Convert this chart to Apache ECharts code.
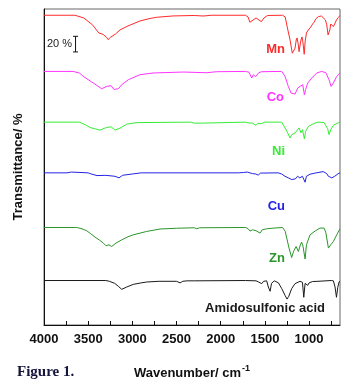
<!DOCTYPE html>
<html>
<head>
<meta charset="utf-8">
<script src="https://cdn.jsdelivr.net/npm/echarts@6/dist/echarts.min.js"></script>
<style>
  html, body { margin: 0; padding: 0; background: #fff; }
  #chart { width: 353px; height: 387px; }
</style>
</head>
<body>
<div id="chart"></div>
<script>
// [wavenumber, transmittance %]
var mnData = [
  [4000, 95], [3650, 95], [3550, 91.5], [3450, 82.6], [3380, 72.3], [3330, 70.4], [3290, 66.5],
  [3275, 63.7], [3250, 66.5], [3230, 66.3], [3190, 71], [3140, 76.2], [3050, 81.3], [2913, 87.7],
  [2800, 90.9], [2724, 92.4], [2540, 94.1], [2300, 94.7], [2200, 94], [2100, 95], [1720, 95],
  [1690, 92.8], [1670, 86], [1650, 87.7], [1600, 91.5], [1580, 90], [1540, 86.8], [1510, 91.5],
  [1470, 94.7], [1300, 95], [1270, 92.8], [1245, 78.7], [1215, 63.3], [1190, 46.3], [1170, 48],
  [1159, 52.7], [1145, 63.3], [1136, 65.9], [1125, 59.5], [1113, 48.3], [1100, 58.2], [1091, 63.3],
  [1080, 67.2], [1070, 60.8], [1055, 45], [1045, 60.8], [1030, 72.3], [1008, 76.2], [980, 80],
  [960, 83.8], [940, 86.4], [925, 90.2], [895, 93.2], [860, 94], [838, 93.5], [815, 89], [800, 82.6],
  [785, 69.7], [778, 67.6], [765, 76.2], [755, 83.8], [740, 83.2], [725, 80.4], [705, 85], [690, 89],
  [670, 91.9], [650, 94.7]
];
var coData = [
  [4000, 95], [3670, 95], [3600, 93], [3555, 88.6], [3442, 80.1], [3347, 72.8], [3290, 75.8],
  [3241, 76.7], [3208, 71.9], [3159, 72.8], [3120, 78], [3045, 84.4], [2913, 90.8], [2763, 93],
  [2423, 94.2], [2158, 93.3], [2050, 94.6], [1720, 95], [1680, 94], [1649, 86.5], [1630, 90.8],
  [1619, 91.4], [1605, 88.2], [1592, 87.3], [1570, 93.3], [1540, 94.6], [1310, 95], [1290, 93.3],
  [1272, 88.6], [1235, 75.8], [1204, 67.3], [1185, 69.6], [1159, 66], [1128, 73.7], [1102, 75.8],
  [1088, 73.5], [1072, 78], [1053, 65.1], [1040, 71.5], [1015, 80.1], [970, 86.5], [913, 93],
  [857, 95], [810, 93.3], [774, 84.4], [751, 75.8], [725, 80.1], [687, 88.6], [650, 93]
];
var niData = [
  [4000, 95], [3600, 95], [3530, 91.5], [3479, 88.1], [3420, 86.4], [3366, 84.7], [3320, 87],
  [3290, 88.1], [3240, 89], [3196, 84.7], [3140, 87.3], [3064, 92.4], [2950, 94.4], [2340, 95],
  [2300, 93.7], [2220, 93.7], [2200, 95], [1720, 95], [1690, 94], [1668, 91.8], [1640, 93.7],
  [1600, 90.9], [1580, 93.5], [1540, 93], [1500, 95], [1310, 95], [1290, 93.7], [1272, 87.6],
  [1242, 81.2], [1215, 74.7], [1195, 79], [1159, 81.2], [1140, 83.2], [1113, 87.6], [1091, 81.2],
  [1075, 85.4], [1053, 73.5], [1040, 82.8], [1008, 89.6], [951, 93], [900, 95], [830, 94.4],
  [790, 86.7], [774, 79], [755, 85.4], [725, 90.9], [690, 93], [650, 95]
];
var cuData = [
  [4000, 95], [3740, 95], [3720, 96], [3690, 96], [3670, 95], [3500, 95], [3470, 93.7], [3400, 91.5],
  [3300, 91.8], [3196, 90.6], [3151, 88.6], [3110, 91.9], [2989, 93.7], [2900, 95], [1800, 95],
  [1780, 96], [1740, 95.5], [1700, 96], [1680, 95], [1640, 94], [1630, 92.2], [1610, 93.7],
  [1574, 92.2], [1550, 94.7], [1350, 95], [1310, 93.5], [1272, 90.6], [1235, 88.6], [1197, 86.4],
  [1175, 88.6], [1155, 87.3], [1130, 90.6], [1105, 88.6], [1075, 90.6], [1045, 83], [1030, 90.6],
  [990, 93.2], [932, 94.7], [840, 96.6], [819, 96.6], [800, 94], [781, 90.6], [743, 88.6],
  [710, 90.6], [670, 94], [650, 95]
];
var znData = [
  [4000, 95], [3630, 95], [3570, 93.3], [3517, 90.8], [3470, 86.9], [3423, 82.7], [3370, 78.6],
  [3329, 75], [3298, 71.5], [3265, 72.8], [3234, 70.6], [3185, 75], [3120, 79.2], [3050, 83.1],
  [2989, 85.6], [2838, 89.9], [2687, 93], [2498, 94], [2300, 94.6], [2271, 93.3], [2240, 94.6],
  [1720, 95], [1690, 93.5], [1668, 90.4], [1640, 92], [1600, 90.8], [1555, 87.8], [1530, 92],
  [1480, 93.3], [1400, 94.2], [1300, 95], [1270, 90.1], [1253, 81.4], [1227, 68.6], [1197, 56.5],
  [1175, 64.5], [1147, 70.6], [1121, 64.2], [1098, 72.8], [1085, 76.3], [1070, 71.5], [1045, 54.5],
  [1030, 72.8], [989, 85.6], [932, 90.4], [876, 94.2], [830, 94.2], [810, 88.2], [781, 68.6],
  [755, 72.8], [725, 77], [687, 85.6], [650, 93.3]
];
var amidoData = [
  [4000, 95], [3300, 95], [3260, 94], [3200, 91.4], [3159, 87.6], [3120, 83.7], [3064, 86.7],
  [2989, 90.1], [2900, 92], [2838, 93.1], [2700, 94], [2500, 94], [2460, 92], [2430, 94],
  [2380, 94.6], [2300, 94.6], [1720, 95], [1600, 94.6], [1574, 93.3], [1560, 94.2], [1536, 91],
  [1515, 94], [1480, 94.6], [1461, 86.7], [1441, 81.2], [1425, 91.4], [1393, 94.6], [1347, 92],
  [1309, 84.6], [1272, 76], [1250, 71.2], [1230, 74.7], [1197, 84.6], [1159, 91], [1102, 94],
  [1075, 92.7], [1060, 73.5], [1045, 91.4], [1015, 88.8], [1000, 92], [960, 93.7], [900, 94],
  [750, 95], [725, 94.6], [706, 86.7], [690, 73.5], [675, 86.3], [660, 93.3], [650, 94]
];

var names = ['Mn', 'Co', 'Ni', 'Cu', 'Zn', 'Amidosulfonic acid'];
var spectra = [mnData, coData, niData, cuData, znData, amidoData];
var offsets = [302, 230, 165, 100, 30, -38];
var colors = ['#ff2a2a', '#ff33ff', '#33ee33', '#2323e6', '#2a962a', '#1a1a1a'];
var tickValues = [750, 1000, 1250, 1500, 1750, 2000, 2250, 2500, 2750, 3000, 3250, 3500, 3750, 4000];
var labelValues = [1000, 1500, 2000, 2500, 3000, 3500, 4000];
var scaleBar = [[3643, 350], [3643, 370]];

var chart = echarts.init(document.getElementById('chart'), null, {renderer: 'canvas'});

var series = []
for (var i = 0; i < spectra.length; i++) {
  var pts = spectra[i].map(function (p) { return [p[0], p[1] + offsets[i]] })
  series.push({
    name: names[i],
    type: 'line',
    data: pts,
    symbol: 'none',
    smooth: false,
    lineStyle: {color: colors[i], width: 1},
    silent: true,
    animation: false
  })
}
series.push({
  name: 'scale',
  type: 'line',
  data: scaleBar,
  symbol: 'rect',
  symbolSize: [5, 1],
  itemStyle: {color: '#111'},
  lineStyle: {color: '#111', width: 1},
  animation: false
})

var labelFont = 'Liberation Sans, Arial, sans-serif'
// y is the vertical centre of the tag, x its right edge
function tag(text, x, y, color) {
  return {
    type: 'text', right: 353 - x, top: y - 7,
    style: {text: text, fill: color, font: 'bold 13px ' + labelFont}
  }
}

chart.setOption({
  backgroundColor: '#fff',
  animation: false,
  grid: {
    left: 44, right: 13, top: 9, bottom: 62,
    show: true, borderColor: '#666', borderWidth: 1
  },
  xAxis: {
    type: 'value',
    inverse: true,
    min: 650,
    max: 4000,
    name: '{a|Wavenumber/ cm}{b|-1}',
    nameLocation: 'middle',
    nameGap: 39,
    nameTextStyle: {
      rich: {
        a: {fontFamily: labelFont, fontWeight: 'bold', fontSize: 13, color: '#111'},
        b: {fontFamily: labelFont, fontWeight: 'bold', fontSize: 9, color: '#111', verticalAlign: 'top', padding: [0, 0, 9, 1]}
      }
    },
    axisLine: {show: true, lineStyle: {color: '#111', width: 1}},
    axisTick: {show: true, inside: true, length: 4, lineStyle: {color: '#111'}, customValues: tickValues},
    axisLabel: {
      customValues: labelValues, margin: 8,
      formatter: function (v) { return String(v) },
      fontFamily: labelFont, fontWeight: 'bold', fontSize: 13, color: '#111'
    },
    splitLine: {show: false}
  },
  yAxis: {
    type: 'value',
    min: 0,
    max: 405,
    name: 'Transmittance/ %',
    nameLocation: 'middle',
    nameGap: 19,
    nameTextStyle: {fontFamily: labelFont, fontWeight: 'bold', fontSize: 13, color: '#111'},
    axisLine: {show: true, lineStyle: {color: '#111', width: 1}},
    axisTick: {show: false},
    axisLabel: {show: false},
    splitLine: {show: false}
  },
  graphic: [
    tag('Mn', 285, 50, colors[0]),
    tag('Co', 284, 98, colors[1]),
    tag('Ni', 285, 152, colors[2]),
    tag('Cu', 285, 207, colors[3]),
    tag('Zn', 285, 259, colors[4]),
    tag('Amidosulfonic acid', 325, 309, colors[5]),
    {
      type: 'text', left: 47, top: 38,
      style: {text: '20 %', fill: '#222', font: '11px ' + labelFont}
    },
    {
      type: 'text', left: 17, top: 365,
      style: {text: 'Figure 1.', fill: '#14143c', font: 'bold 15px Liberation Serif, Times New Roman, serif'}
    }
  ],
  series: series
})
</script>
</body>
</html>
